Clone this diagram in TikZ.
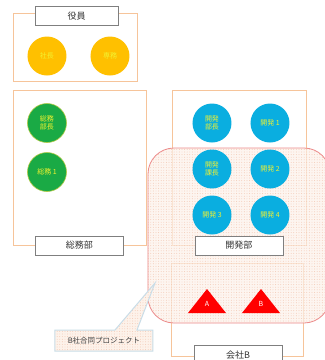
\documentclass[tikz,border=0pt]{standalone}
\usepackage{fontspec}
\setmainfont{Noto Sans CJK JP}
\usetikzlibrary{patterns.meta}
\definecolor{grpline}{HTML}{F6C49A}
\definecolor{lblline}{HTML}{7F7F7F}
\definecolor{yakuin}{HTML}{FFC000}
\definecolor{soumu}{HTML}{1AAA45}
\definecolor{kaihatsu}{HTML}{0AAEE0}
\definecolor{ctext}{HTML}{F2F230}
\definecolor{projline}{HTML}{EC8A8A}
\definecolor{projfill}{HTML}{FDF2EA}
\definecolor{dotcol}{HTML}{F2C4AE}
\definecolor{callline}{HTML}{C9DDE8}
\definecolor{calltext}{HTML}{404040}
\tikzset{
  grp/.style={draw=grpline, line width=0.8pt},
  lbl/.style={draw=lblline, fill=white, line width=0.9pt, minimum width=88pt, minimum height=19pt, inner sep=0pt, font=\fontsize{9}{10}\selectfont, text=black!80},
  person/.style={circle, minimum size=39pt, inner sep=0pt, align=center, font=\fontsize{7}{8.5}\selectfont, text=ctext},
  yk/.style={person, fill=yakuin},
  sm/.style={person, fill=soumu, draw=yellow!60!soumu, line width=0.6pt},
  kh/.style={person, fill=kaihatsu},
  trifill/.style={fill=red},
  trilbl/.style={text=white, font=\fontsize{7}{8}\selectfont, inner sep=0pt},
  dotted fill/.style={pattern={Dots[distance=2.6pt, radius=0.45pt]}, pattern color=dotcol}
}
\begin{document}
\begin{tikzpicture}[x=1pt, y=-1pt]
\useasboundingbox[fill=white] (0,0) rectangle (325,360);
% group frames
\draw[grp] (13,13) rectangle (137,81);
\draw[grp] (13,90) rectangle (146,245);
\draw[grp] (172,90) rectangle (306,245);
\draw[grp] (171,263) rectangle (303,356);
% project area
\fill[projfill, opacity=0.7, rounded corners=26pt] (148,148) rectangle (330,323);
\fill[dotted fill, rounded corners=26pt] (148,148) rectangle (330,323);
\draw[projline, line width=0.8pt, rounded corners=26pt] (148,148) rectangle (330,323);
% callout
\fill[projfill] (55,330) -- (115,330) -- (155,283) -- (137,330) -- (153,330) -- (153,351) -- (55,351) -- cycle;
\fill[dotted fill] (55,330) -- (115,330) -- (155,283) -- (137,330) -- (153,330) -- (153,351) -- (55,351) -- cycle;
\draw[callline, line width=1pt] (55,330) -- (115,330) -- (155,283) -- (137,330) -- (153,330) -- (153,351) -- (55,351) -- cycle;
\node[font=\fontsize{7.5}{8}\selectfont, text=calltext] (call) at (104,341) {B社合同プロジェクト};
% labels
\node[lbl, minimum width=83pt] (l1) at (76.5,16) {役員};
\node[lbl] (l2) at (79.5,245.5) {総務部};
\node[lbl] (l3) at (239,245.5) {開発部};
\node[lbl] (l4) at (238,355) {会社B};
% people
\node[yk] (p1) at (47,56) {社長};
\node[yk] (p2) at (110,56) {専務};
\node[sm] (s1) at (47,123) {総務\\部長};
\node[sm] (s2) at (47,172) {総務 1};
\node[kh] (k1) at (212,123) {開発\\部長};
\node[kh] (k2) at (270,123) {開発 1};
\node[kh] (k3) at (212,169) {開発\\課長};
\node[kh] (k4) at (270,169) {開発 2};
\node[kh] (k5) at (212,215) {開発 3};
\node[kh] (k6) at (270,215) {開発 4};
% triangles
\coordinate (ta) at (207,289);
\coordinate (tb) at (261,289);
\fill[trifill] (ta) -- ++(-19,24) -- ++(38,0) -- cycle;
\fill[trifill] (tb) -- ++(-19,24) -- ++(38,0) -- cycle;
\node[trilbl] (tal) at ([yshift=-15pt]ta) {A};
\node[trilbl] (tbl) at ([yshift=-15pt]tb) {B};
\end{tikzpicture}
\end{document}
